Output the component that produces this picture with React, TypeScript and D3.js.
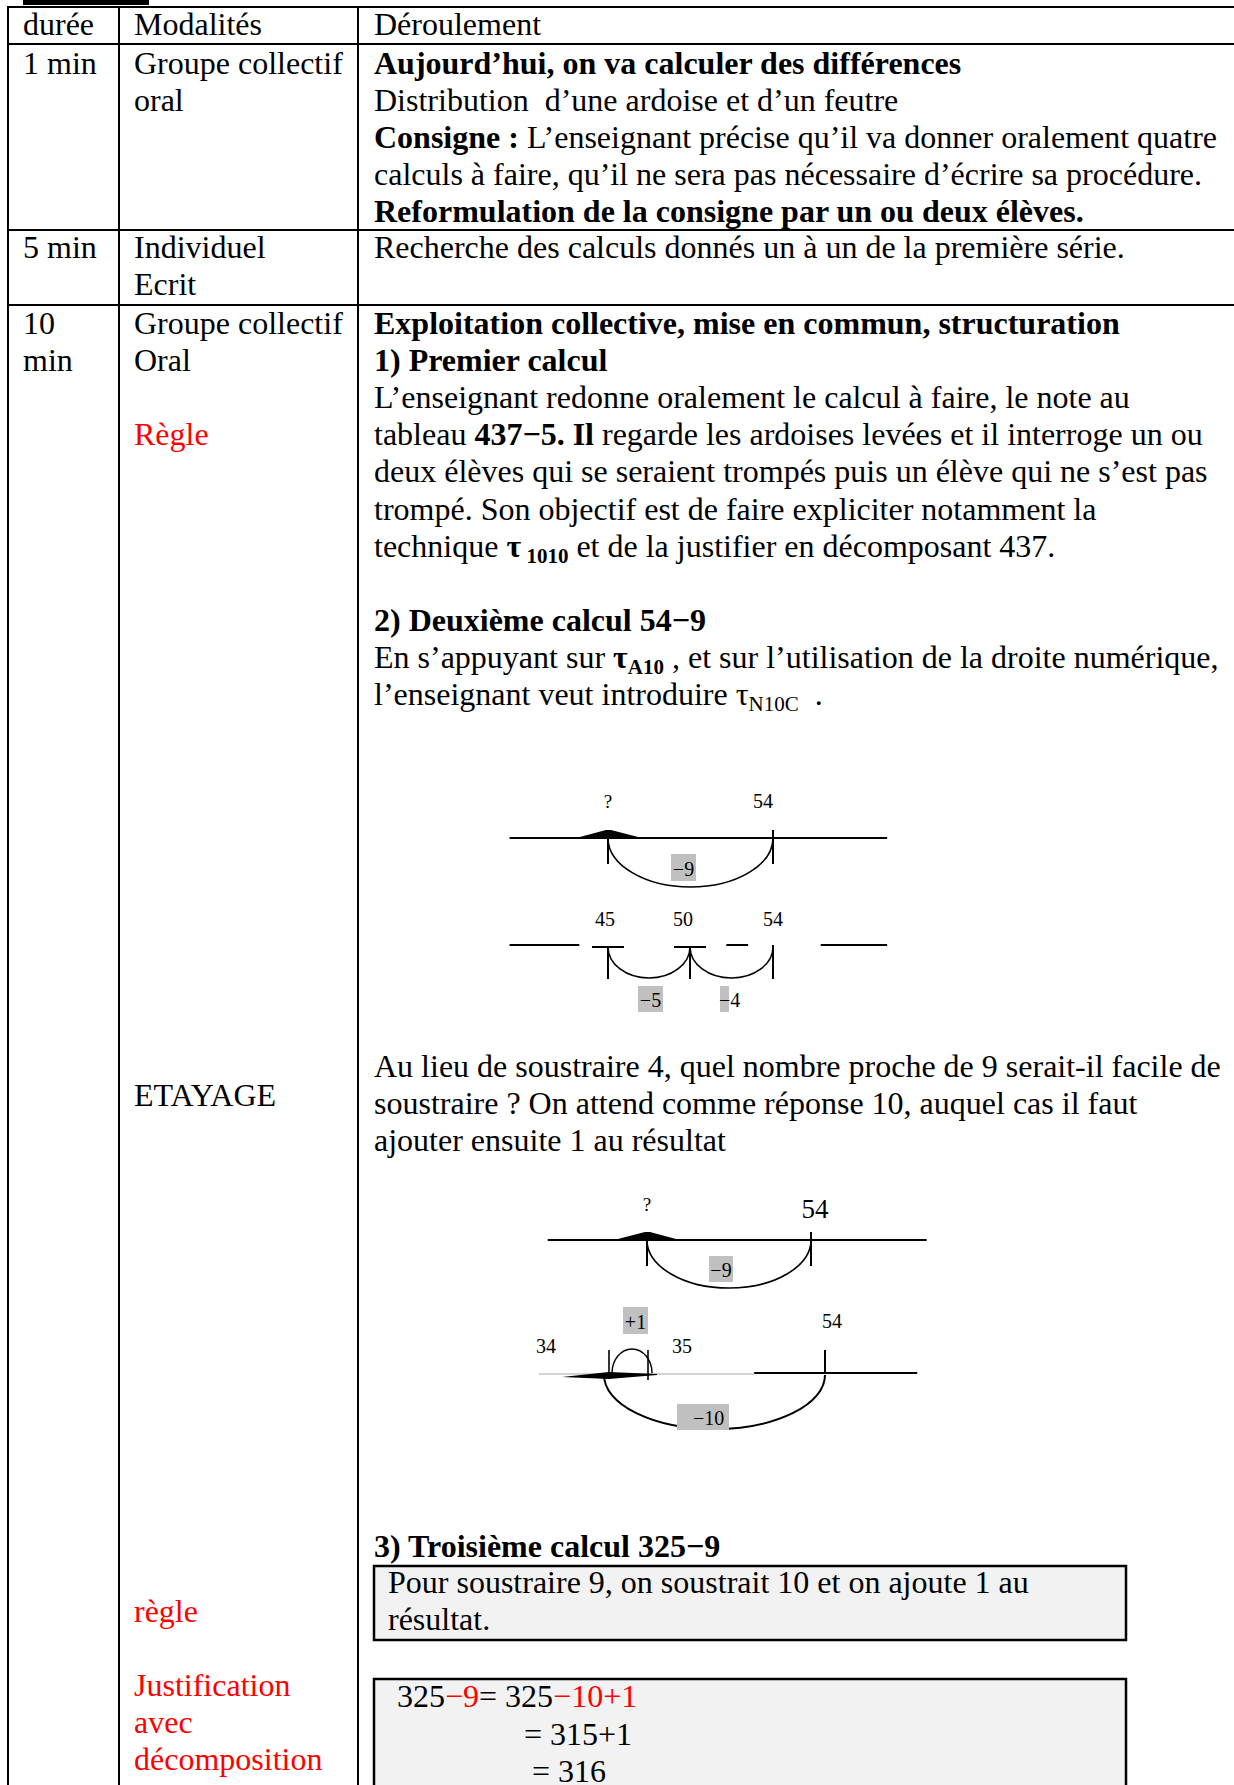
import React from 'react';
import * as d3 from 'd3';

const FONT = '"Liberation Serif", "Times New Roman", Times, serif';
const RED = '#ff0000';
const LABEL_GRAY = '#c0c0c0';
const BOX_FILL = '#f2f2f2';

type Run = { t: string; b?: boolean; red?: boolean; sub?: boolean };

// ---------------- data ----------------
const headerLabels = ['durée', 'Modalités', 'Déroulement'];
const durationRow1 = ['1 min'];
const durationRow2 = ['5 min'];
const durationRow3 = ['10', 'min'];

const modalitesRow1 = ['Groupe collectif', 'oral'];
const modalitesRow2 = ['Individuel', 'Ecrit'];
const modalitesRow3 = ['Groupe collectif', 'Oral', '', 'Règle'];
const modalitesEtayage = ['ETAYAGE'];
const modalitesRegle = ['règle'];
const modalitesJustif = ['Justification', 'avec', 'décomposition'];

const deroulementRow1: Run[][] = [
  [{ t: 'Aujourd’hui, on va calculer des différences', b: true }],
  [{ t: 'Distribution  d’une ardoise et d’un feutre' }],
  [{ t: 'Consigne :', b: true }, { t: ' L’enseignant précise qu’il va donner oralement quatre' }],
  [{ t: 'calculs à faire, qu’il ne sera pas nécessaire d’écrire sa procédure.' }],
  [{ t: 'Reformulation de la consigne par un ou deux élèves.', b: true }],
];
const deroulementRow2: Run[][] = [
  [{ t: 'Recherche des calculs donnés un à un de la première série.' }],
];
const deroulementRow3: Run[][] = [
  [{ t: 'Exploitation collective, mise en commun, structuration', b: true }],
  [{ t: '1) Premier calcul', b: true }],
  [{ t: 'L’enseignant redonne oralement le calcul à faire, le note au' }],
  [{ t: 'tableau ' }, { t: '437−5. Il', b: true }, { t: ' regarde les ardoises levées et il interroge un ou' }],
  [{ t: 'deux élèves qui se seraient trompés puis un élève qui ne s’est pas' }],
  [{ t: 'trompé. Son objectif est de faire expliciter notamment la' }],
  [{ t: 'technique ' }, { t: 'τ', b: true }, { t: ' 1010', b: true, sub: true }, { t: ' et de la justifier en décomposant 437.' }],
  [],
  [{ t: '2) Deuxième calcul 54−9', b: true }],
  [{ t: 'En s’appuyant sur ' }, { t: 'τ', b: true }, { t: 'A10', b: true, sub: true }, { t: ' , et sur l’utilisation de la droite numérique,' }],
  [{ t: 'l’enseignant veut introduire τ' }, { t: 'N10C', sub: true }, { t: '  .' }],
];
const paragraphEtayage: Run[][] = [
  [{ t: 'Au lieu de soustraire 4, quel nombre proche de 9 serait-il facile de' }],
  [{ t: 'soustraire ? On attend comme réponse 10, auquel cas il faut' }],
  [{ t: 'ajouter ensuite 1 au résultat' }],
];
const troisiemeTitle: Run[][] = [[{ t: '3) Troisième calcul 325−9', b: true }]];
const regleBox: Run[][] = [
  [{ t: 'Pour soustraire 9, on soustrait 10 et on ajoute 1 au' }],
  [{ t: 'résultat.' }],
];
const justifLine1: Run[] = [{ t: '325' }, { t: '−9', red: true }, { t: '= 325' }, { t: '−10+1', red: true }];
const justifLine2: Run[] = [{ t: '= 315+1' }];
const justifLine3: Run[] = [{ t: '= 316' }];

// number-line diagrams (values)
const d1Start = 54;
const d1Jump = -9;
const d1Ticks = [45, 50, 54];
const d1SubJumps = [
  { from: 50, to: 45, label: '−5' },
  { from: 54, to: 50, label: '−4' },
];
const d2Start = 54;
const d2Jump = -9;
const d2Ticks = [34, 35, 54];
const d2BigJump = { from: 54, to: 34, label: '−10' };
const d2SmallJump = { from: 34, to: 35, label: '+1' };

// ---------------- layout ----------------
const W = 1234;
const H = 1785;
const FS = 32;
const LH = 37.1;
const SUB_FS = 21;
const COLX = [23, 134, 374];
const VLINES = [8, 119, 358];
const HLINES = [7, 44, 230, 305];

function RunText({ x, y, runs, size = FS, color = '#000' }: { x: number; y: number; runs: Run[]; size?: number; color?: string }) {
  let prevSub = false;
  return (
    <text x={x} y={y} fontFamily={FONT} fontSize={size} fill={color} style={{ whiteSpace: 'pre' }}>
      {runs.map((r, i) => {
        let dy = 0;
        if (r.sub && !prevSub) dy = 6;
        if (!r.sub && prevSub) dy = -6;
        prevSub = !!r.sub;
        return (
          <tspan
            key={i}
            dy={dy || undefined}
            fontWeight={r.b ? 'bold' : undefined}
            fill={r.red ? RED : undefined}
            fontSize={r.sub ? SUB_FS : undefined}
          >
            {r.t}
          </tspan>
        );
      })}
    </text>
  );
}

function Block({ x, y0, lines, color }: { x: number; y0: number; lines: Run[][]; color?: string }) {
  return (
    <g>
      {lines.map((l, i) => (l.length ? <RunText key={i} x={x} y={y0 + i * LH} runs={l} color={color} /> : null))}
    </g>
  );
}

const plain = (arr: string[]): Run[][] => arr.map((s) => (s ? [{ t: s }] : []));

function lowerArc(xa: number, xb: number, y: number, depth: number) {
  const rx = Math.abs(xb - xa) / 2;
  return `M${Math.min(xa, xb)},${y} A${rx},${depth} 0 0 0 ${Math.max(xa, xb)},${y}`;
}
function upperArc(xa: number, xb: number, y: number, height: number) {
  const rx = Math.abs(xb - xa) / 2;
  return `M${Math.min(xa, xb)},${y} A${rx},${height} 0 0 1 ${Math.max(xa, xb)},${y}`;
}

function GrayLabel({ x0, x1, y0, y1, text, tx, anchor = 'middle', size = 20 }: any) {
  return (
    <g>
      <rect x={x0} y={y0} width={x1 - x0} height={y1 - y0} fill={LABEL_GRAY} />
      <text x={tx ?? (x0 + x1) / 2} y={y1 - 5} textAnchor={anchor} fontFamily={FONT} fontSize={size}>
        {text}
      </text>
    </g>
  );
}

function Diagram1() {
  const x = d3.scaleLinear().domain([45, 50, 54]).range([608, 690, 773]);
  const yTop = 838;
  const yBot = 946;
  const q = d1Start + d1Jump;
  const lineExt = [39, 59.5];
  const botSegs = [
    [39, 43.25],
    [51.75, 52.8],
    [56.3, 59.5],
  ];
  const labelShift = [-3, -7, 0];
  return (
    <g stroke="#000" fill="none">
      {/* top line */}
      <line x1={x(lineExt[0])} x2={x(lineExt[1])} y1={yTop} y2={yTop} strokeWidth={2} />
      <polygon
        points={`${x(q) - 32},${yTop} ${x(q) - 2},${yTop - 8} ${x(q) + 3},${yTop - 8} ${x(q) + 30},${yTop - 1} ${x(q) + 30},${yTop}`}
        fill="#000"
        stroke="none"
      />
      <line x1={x(q)} x2={x(q)} y1={yTop} y2={yTop + 26} strokeWidth={2} />
      <line x1={x(d1Start)} x2={x(d1Start)} y1={yTop - 8} y2={yTop + 26} strokeWidth={2} />
      <path d={lowerArc(x(q), x(d1Start), yTop, 49)} strokeWidth={1.6} />
      <text x={x(q)} y={808} textAnchor="middle" fontFamily={FONT} fontSize={19} fill="#000" stroke="none">?</text>
      <text x={x(d1Start) - 10} y={808} textAnchor="middle" fontFamily={FONT} fontSize={20} fill="#000" stroke="none">{String(d1Start)}</text>
      <g stroke="none" fill="#000">
        <GrayLabel x0={671} x1={696} y0={854} y1={881} text={`−${Math.abs(d1Jump)}`} />
      </g>

      {/* bottom line */}
      {botSegs.map((s, i) => (
        <line key={i} x1={x(s[0])} x2={x(s[1])} y1={yBot - 1} y2={yBot - 1} strokeWidth={2} />
      ))}
      {d1Ticks.map((t, i) => (
        <g key={t}>
          {i < 2 ? <line x1={x(t) - 16} x2={x(t) + 16} y1={yBot + 1} y2={yBot + 1} strokeWidth={2} /> : null}
          <line x1={x(t)} x2={x(t)} y1={i < 2 ? yBot + 1 : yBot - 1} y2={yBot + 33} strokeWidth={2} />
          <text x={x(t) + labelShift[i]} y={926} textAnchor="middle" fontFamily={FONT} fontSize={20} fill="#000" stroke="none">
            {String(t)}
          </text>
        </g>
      ))}
      {d1SubJumps.map((j, i) => (
        <path key={i} d={lowerArc(x(j.from), x(j.to), yBot + 1, 31)} strokeWidth={1.6} />
      ))}
      <g stroke="none" fill="#000">
        <GrayLabel x0={638} x1={663} y0={986} y1={1012} text={d1SubJumps[0].label} />
        <rect x={720} y={986} width={9} height={26} fill={LABEL_GRAY} />
        <text x={719} y={1007} fontFamily={FONT} fontSize={20}>{d1SubJumps[1].label}</text>
      </g>
    </g>
  );
}

function Diagram2() {
  const x = d3.scaleLinear().domain([45, 54]).range([647, 811]);
  const xb = d3.scaleLinear().domain([34, 35, 54]).range([609, 648, 825]);
  const yTop = 1240;
  const yBot = 1374;
  const q = d2Start + d2Jump;
  return (
    <g stroke="#000" fill="none">
      <line x1={x(39.55)} x2={x(60.35)} y1={yTop} y2={yTop} strokeWidth={2} />
      <polygon
        points={`${x(q) - 33},${yTop} ${x(q) - 2},${yTop - 8} ${x(q) + 3},${yTop - 8} ${x(q) + 29},${yTop - 1} ${x(q) + 29},${yTop}`}
        fill="#000"
        stroke="none"
      />
      <line x1={x(q)} x2={x(q)} y1={yTop} y2={yTop + 26} strokeWidth={2} />
      <line x1={x(d2Start)} x2={x(d2Start)} y1={yTop - 8} y2={yTop + 26} strokeWidth={2} />
      <path d={lowerArc(x(q), x(d2Start), yTop, 48)} strokeWidth={1.6} />
      <text x={x(q)} y={1211} textAnchor="middle" fontFamily={FONT} fontSize={19} fill="#000" stroke="none">?</text>
      <text x={x(d2Start) + 4} y={1218} textAnchor="middle" fontFamily={FONT} fontSize={27} fill="#000" stroke="none">{String(d2Start)}</text>
      <g stroke="none" fill="#000">
        <GrayLabel x0={709} x1={733} y0={1256} y1={1282} text={`−${Math.abs(d2Jump)}`} />
      </g>

      {/* bottom */}
      <line x1={xb(32.2)} x2={xb(46.4)} y1={yBot} y2={yBot} stroke="#a8a8a8" strokeWidth={1} />
      <line x1={xb(46.4)} x2={xb(63.9)} y1={yBot - 1} y2={yBot - 1} strokeWidth={2} />
      <polygon
        points={`${xb(34) - 47},${yBot + 3} ${xb(34)},${yBot - 2} ${xb(35) + 9},${yBot} ${xb(35) + 9},${yBot + 1} ${xb(34)},${yBot + 5}`}
        fill="#000"
        stroke="none"
      />
      <line x1={xb(34)} x2={xb(34)} y1={1350} y2={1379} strokeWidth={1.6} />
      <line x1={xb(35)} x2={xb(35)} y1={1350} y2={1380} strokeWidth={1.6} />
      <line x1={xb(54)} x2={xb(54)} y1={1350} y2={yBot} strokeWidth={2} />
      <path d={upperArc(xb(d2SmallJump.from) + 3, xb(d2SmallJump.to) + 4, 1373, 24)} strokeWidth={1.4} />
      <path d={lowerArc(xb(d2BigJump.to) - 5, xb(d2BigJump.from), yBot + 1, 54)} strokeWidth={2} />
      <text x={536} y={1353} fontFamily={FONT} fontSize={20} fill="#000" stroke="none">{String(d2Ticks[0])}</text>
      <text x={672} y={1353} fontFamily={FONT} fontSize={20} fill="#000" stroke="none">{String(d2Ticks[1])}</text>
      <text x={822} y={1328} fontFamily={FONT} fontSize={20} fill="#000" stroke="none">{String(d2Ticks[2])}</text>
      <g stroke="none" fill="#000">
        <GrayLabel x0={623} x1={648} y0={1307} y1={1334} text={d2SmallJump.label} />
        <rect x={677} y={1404} width={52} height={26} fill={LABEL_GRAY} />
        <text x={693} y={1425} fontFamily={FONT} fontSize={20}>{d2BigJump.label}</text>
      </g>
    </g>
  );
}

export default function App() {
  return (
    <svg
      width={W}
      height={H}
      viewBox={`0 0 ${W} ${H}`}
      style={{ position: 'absolute', left: 0, top: 0, display: 'block', background: '#fff' }}
    >
      <rect x={0} y={0} width={W} height={H} fill="#fff" />
      {/* top black bar */}
      <rect x={23} y={0} width={126} height={5} fill="#000" />

      {/* table grid */}
      <g stroke="#000" strokeWidth={2}>
        {HLINES.map((y) => (
          <line key={y} x1={VLINES[0] - 1} x2={W} y1={y} y2={y} />
        ))}
        {VLINES.map((x) => (
          <line key={x} x1={x} x2={x} y1={HLINES[0] - 1} y2={H} />
        ))}
      </g>

      {/* header */}
      {headerLabels.map((h, i) => (
        <text key={h} x={COLX[i]} y={35} fontFamily={FONT} fontSize={FS}>
          {h}
        </text>
      ))}

      {/* row 1 */}
      <Block x={COLX[0]} y0={74} lines={plain(durationRow1)} />
      <Block x={COLX[1]} y0={74} lines={plain(modalitesRow1)} />
      <Block x={COLX[2]} y0={74} lines={deroulementRow1} />

      {/* row 2 */}
      <Block x={COLX[0]} y0={258} lines={plain(durationRow2)} />
      <Block x={COLX[1]} y0={258} lines={plain(modalitesRow2)} />
      <Block x={COLX[2]} y0={258} lines={deroulementRow2} />

      {/* row 3 */}
      <Block x={COLX[0]} y0={334} lines={plain(durationRow3)} />
      <Block x={COLX[1]} y0={334} lines={plain(modalitesRow3.slice(0, 2))} />
      <Block x={COLX[1]} y0={334 + 3 * LH} lines={plain(modalitesRow3.slice(3))} color={RED} />
      <Block x={COLX[1]} y0={1106} lines={plain(modalitesEtayage)} />
      <Block x={COLX[1]} y0={1622} lines={plain(modalitesRegle)} color={RED} />
      <Block x={COLX[1]} y0={1696} lines={plain(modalitesJustif)} color={RED} />

      <Block x={COLX[2]} y0={334} lines={deroulementRow3} />

      <Diagram1 />

      <Block x={COLX[2]} y0={1077} lines={paragraphEtayage} />

      <Diagram2 />

      <Block x={COLX[2]} y0={1557} lines={troisiemeTitle} />

      {/* rule box */}
      <rect x={374} y={1566} width={752} height={74} fill={BOX_FILL} stroke="#000" strokeWidth={2.5} />
      <Block x={388} y0={1593} lines={regleBox} />

      {/* justification box */}
      <rect x={374} y={1679} width={752} height={140} fill={BOX_FILL} stroke="#000" strokeWidth={2.5} />
      <RunText x={397} y={1707} runs={justifLine1} />
      <RunText x={524} y={1745} runs={justifLine2} />
      <RunText x={532} y={1782} runs={justifLine3} />
    </svg>
  );
}
